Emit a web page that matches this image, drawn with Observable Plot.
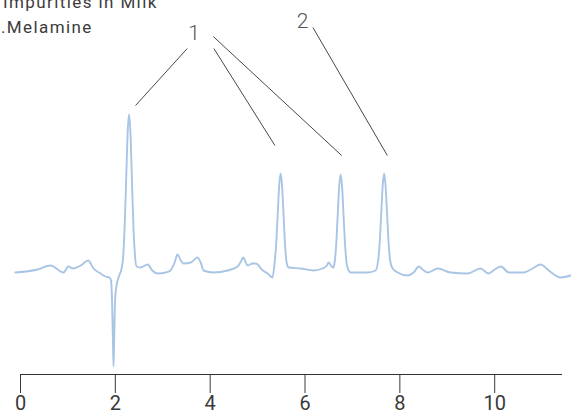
<!DOCTYPE html>
<html>
<head>
<meta charset="utf-8">
<script src="https://cdn.jsdelivr.net/npm/d3@7"></script>
<script src="https://cdn.jsdelivr.net/npm/@observablehq/plot@0.6"></script>
<style>
  html, body { margin: 0; padding: 0; background: #fff; overflow: hidden; }
  #wrap { position: relative; width: 571px; height: 414px; }
  .ttl { position: absolute; font-family: Roboto, sans-serif; font-size: 17px; letter-spacing: 1.4px; color: #3c3c3c; white-space: nowrap; line-height: 1; }
</style>
</head>
<body>
<div id="wrap"></div>
<script>
// Title lines (partly cut off at the top-left in the reference)
const titleLines = ["Impurities in Milk", "1.Melamine"];

// x axis ticks (retention time, min)
const xTicks = [0, 2, 4, 6, 8, 10];
const xDomain = [0, 11.43];
const yDomain = [-10.2, 27.2];

// Chromatogram trace: [retention time (min), signal]
const trace = [
  [-0.11, 0], [0.36, 0.3], [0.63, 0.7], [0.91, 0], [1.01, 0.6], [1.10, 0.4],
  [1.27, 0.7], [1.43, 1.2], [1.54, 0.4], [1.69, -0.1], [1.79, -0.4], [1.878, -0.5],
  [1.909, -0.8], [1.930, -2.8], [1.947, -6.3], [1.962, -9.4], [1.977, -6.3], [1.994, -2.8],
  [2.025, -1.3], [2.068, -0.5], [2.131, 0.4], [2.162, 1.4], [2.194, 4.3], [2.226, 8.9],
  [2.257, 13.7], [2.289, 15.8], [2.321, 13.7], [2.352, 8.9], [2.384, 4.3], [2.416, 1.6],
  [2.447, 0.6], [2.53, 0.5], [2.68, 0.8], [2.78, 0.2], [2.89, -0.1], [3.06, 0],
  [3.16, 0.2], [3.25, 1.0], [3.31, 1.8], [3.38, 1.2], [3.44, 0.9], [3.59, 1.0],
  [3.73, 1.5], [3.80, 1.0], [3.86, 0.2], [4.07, 0], [4.37, 0.2], [4.58, 0.6],
  [4.66, 1.2], [4.70, 1.5], [4.75, 1.0], [4.79, 0.7], [4.89, 0.9], [4.96, 0.9],
  [5.11, 0.2], [5.21, -0.1], [5.316, -0.5], [5.359, 1.0], [5.390, 2.7], [5.422, 5.6],
  [5.454, 8.6], [5.485, 9.9], [5.517, 8.6], [5.549, 5.6], [5.580, 2.7], [5.612, 1.0],
  [5.654, 0.5], [5.91, 0.4], [6.18, 0.2], [6.37, 0.4], [6.46, 0.7], [6.50, 1.0],
  [6.561, 0.6], [6.603, 0.5], [6.624, 1.0], [6.656, 2.7], [6.688, 5.6], [6.719, 8.5],
  [6.751, 9.8], [6.783, 8.5], [6.814, 5.6], [6.846, 2.7], [6.878, 0.9], [6.920, 0.2],
  [6.962, 0], [7.32, 0], [7.489, 0.2], [7.542, 1.2], [7.574, 2.9], [7.605, 5.7],
  [7.637, 8.6], [7.669, 9.9], [7.700, 8.6], [7.732, 5.7], [7.764, 2.9], [7.795, 1.2],
  [7.848, 0.4], [7.954, 0], [8.16, -0.3], [8.29, 0], [8.40, 0.6], [8.48, 0.3],
  [8.59, 0], [8.80, 0.4], [9.07, 0], [9.43, -0.1], [9.70, 0.4], [9.87, -0.1],
  [10.00, 0.3], [10.13, 0.6], [10.30, 0], [10.61, 0], [10.80, 0.4], [10.97, 0.8],
  [11.14, 0.2], [11.39, -0.5], [11.60, -0.3]
];

// Peak labels and leader lines (data units)
const peakLabels = [
  {label: "1", t: 3.66, v: 23.3},
  {label: "2", t: 5.95, v: 24.5}
];
const leaders = [
  {t1: 3.517, v1: 22.4, t2: 2.426, v2: 16.7},
  {t1: 4.078, v1: 22.4, t2: 5.365, v2: 12.7},
  {t1: 4.065, v1: 23.6, t2: 6.772, v2: 11.7},
  {t1: 6.167, v1: 24.5, t2: 7.736, v2: 11.7}
];

const data = trace.map(([t, v]) => ({t, v}));

const chart = Plot.plot({
  width: 571,
  height: 414,
  marginLeft: 20,
  marginRight: 9,
  marginTop: 0,
  marginBottom: 40,
  style: {fontFamily: "Roboto, sans-serif", fontSize: "20px", color: "#3a3a3a", background: "transparent", overflow: "visible"},
  x: {domain: xDomain, ticks: xTicks, tickSize: 19, tickPadding: 2, label: null},
  y: {domain: yDomain, axis: null},
  marks: [
    Plot.ruleY([yDomain[0]], {stroke: "#333", strokeWidth: 1}),
    Plot.line(data, {x: "t", y: "v", stroke: "#a9c5e4", strokeWidth: 1.9, curve: "monotone-x"}),
    Plot.link(leaders, {x1: "t1", y1: "v1", x2: "t2", y2: "v2", stroke: "#333", strokeWidth: 0.9}),
    Plot.text(peakLabels, {x: "t", y: "v", text: "label", lineAnchor: "bottom", textAnchor: "middle", fontSize: 21, fontWeight: 300, fill: "#555"})
  ]
});

const wrap = document.getElementById("wrap");
wrap.appendChild(chart);

const t1 = document.createElement("div");
t1.className = "ttl";
t1.textContent = titleLines[0];
t1.style.left = "3px"; t1.style.top = "-6px";
wrap.appendChild(t1);
const t2 = document.createElement("div");
t2.className = "ttl";
t2.textContent = titleLines[1];
t2.style.left = "-10px"; t2.style.top = "19px";
wrap.appendChild(t2);
</script>
</body>
</html>
